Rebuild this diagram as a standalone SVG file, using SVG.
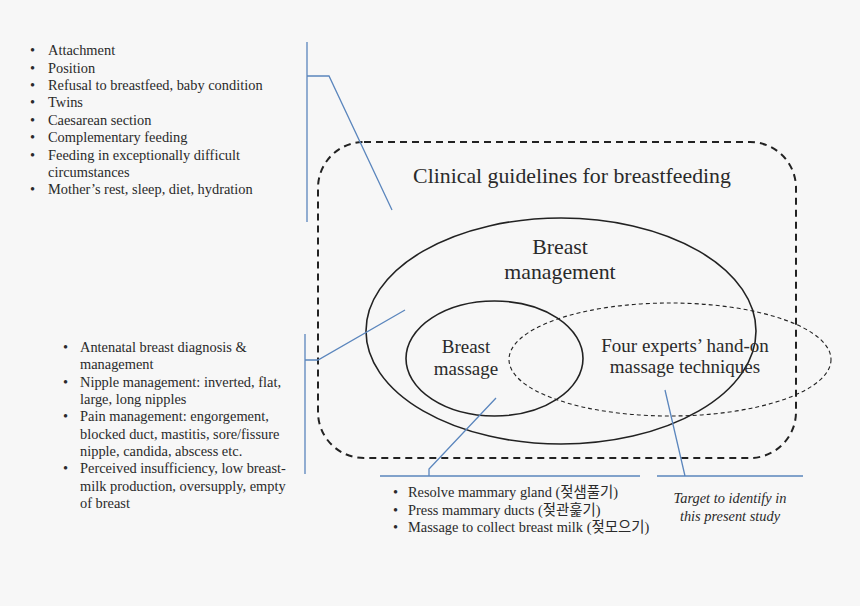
<svg xmlns="http://www.w3.org/2000/svg" width="860" height="606" viewBox="0 0 860 606">
<style>
text{font-family:"Liberation Serif","Noto Sans CJK KR",serif;fill:#2a2a2a}
.l{font-size:14.4px}
.big{font-size:21.8px}
.mid{font-size:19px}
.it{font-size:14.4px;font-style:italic}
.blue{fill:none;stroke:#5b86bd;stroke-width:1.3}
</style>
<rect width="860" height="606" fill="#f7f7f7"/>
<g id="guidelines">
<rect x="318" y="142" width="478" height="316" rx="46" ry="46" fill="none" stroke="#222" stroke-width="2" stroke-dasharray="7,5"/>
<text class="big" x="572" y="183" text-anchor="middle">Clinical guidelines for breastfeeding</text>
</g>
<g id="breast-management">
<ellipse cx="561" cy="331" rx="195" ry="113" fill="none" stroke="#222" stroke-width="1.6"/>
<text class="big" x="560" y="254" text-anchor="middle">Breast</text>
<text class="big" x="560" y="279" text-anchor="middle">management</text>
</g>
<g id="breast-massage">
<ellipse cx="494.5" cy="358.5" rx="88.5" ry="57.5" fill="none" stroke="#222" stroke-width="1.6"/>
<text class="mid" x="466" y="353" text-anchor="middle">Breast</text>
<text class="mid" x="466" y="375" text-anchor="middle">massage</text>
</g>
<g id="experts">
<ellipse cx="670" cy="359.5" rx="161" ry="56.5" fill="none" stroke="#222" stroke-width="1.1" stroke-dasharray="4,3"/>
<text class="mid" x="685" y="352" text-anchor="middle">Four experts’ hand-on</text>
<text class="mid" x="685" y="373" text-anchor="middle">massage techniques</text>
</g>
<g id="list-top">
<text class="l" x="30" y="55">•</text><text class="l" x="48" y="55">Attachment</text>
<text class="l" x="30" y="72.5">•</text><text class="l" x="48" y="72.5">Position</text>
<text class="l" x="30" y="90">•</text><text class="l" x="48" y="90">Refusal to breastfeed, baby condition</text>
<text class="l" x="30" y="107">•</text><text class="l" x="48" y="107">Twins</text>
<text class="l" x="30" y="124.5">•</text><text class="l" x="48" y="124.5">Caesarean section</text>
<text class="l" x="30" y="142">•</text><text class="l" x="48" y="142">Complementary feeding</text>
<text class="l" x="30" y="159.5">•</text><text class="l" x="48" y="159.5">Feeding in exceptionally difficult</text>
<text class="l" x="48" y="177">circumstances</text>
<text class="l" x="30" y="194">•</text><text class="l" x="48" y="194">Mother’s rest, sleep, diet, hydration</text>
</g>
<g id="list-middle">
<text class="l" x="63" y="352">•</text><text class="l" x="80" y="352">Antenatal breast diagnosis &amp;</text>
<text class="l" x="80" y="369">management</text>
<text class="l" x="63" y="386.5">•</text><text class="l" x="80" y="386.5">Nipple management: inverted, flat,</text>
<text class="l" x="80" y="404">large, long nipples</text>
<text class="l" x="63" y="421">•</text><text class="l" x="80" y="421">Pain management: engorgement,</text>
<text class="l" x="80" y="438.5">blocked duct, mastitis, sore/fissure</text>
<text class="l" x="80" y="455.5">nipple, candida, abscess etc.</text>
<text class="l" x="63" y="473">•</text><text class="l" x="80" y="473">Perceived insufficiency, low breast-</text>
<text class="l" x="80" y="490.5">milk production, oversupply, empty</text>
<text class="l" x="80" y="507.5">of breast</text>
</g>
<g id="list-bottom">
<text class="l" x="393" y="497">•</text><text class="l" x="408" y="497">Resolve mammary gland (젖샘풀기)</text>
<text class="l" x="393" y="514.5">•</text><text class="l" x="408" y="514.5">Press mammary ducts (젖관훑기)</text>
<text class="l" x="393" y="532">•</text><text class="l" x="408" y="532">Massage to collect breast milk (젖모으기)</text>
</g>
<g id="target">
<text class="it" x="730" y="503" text-anchor="middle">Target to identify in</text>
<text class="it" x="730" y="521" text-anchor="middle">this present study</text>
</g>
<g id="connectors">
<path class="blue" d="M307,42 V222 M307,76 H329 L392,210"/>
<path class="blue" d="M305,334 V474 M305,360 H318 L405,310"/>
<path class="blue" d="M380,476 H640 M429,476 V469 L496,398"/>
<path class="blue" d="M657,476 H803 M685,476 L665,390"/>
</g>
</svg>
